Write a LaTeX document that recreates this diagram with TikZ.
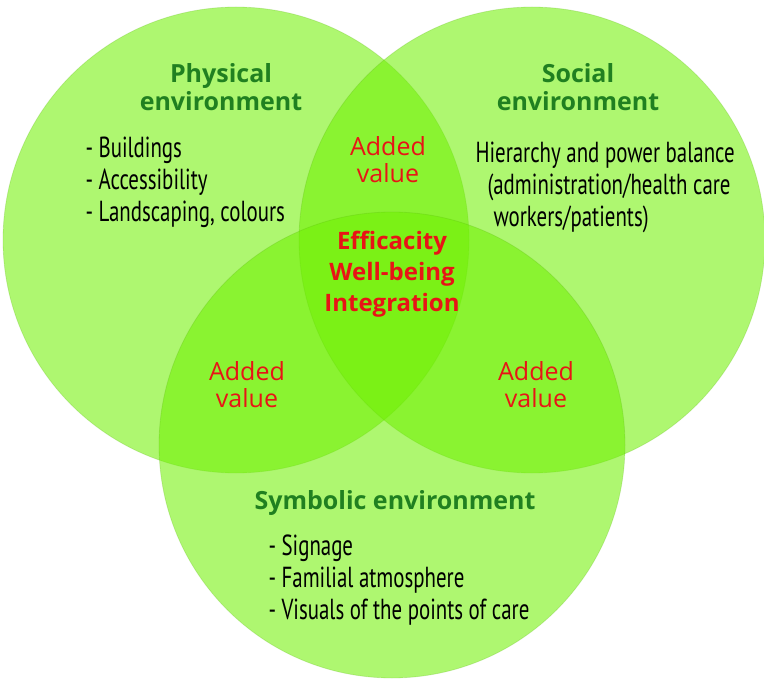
\documentclass[tikz,border=0pt]{standalone}
\usepackage{fontspec}
\setmainfont{Open Sans}
\newfontfamily\narrowfont[FakeStretch=0.72]{PT Sans}
\usepackage{tikz}
\definecolor{venngreen}{RGB}{110,240,0}
\definecolor{titlegreen}{RGB}{32,128,32}
\definecolor{valuered}{RGB}{232,20,22}

\begin{document}
\begin{tikzpicture}[x=1pt,y=-1pt,
  venn/.style={circle,minimum size=466pt,inner sep=0pt,fill=venngreen,fill opacity=0.56,
    draw=venngreen!70!black,draw opacity=0.2,line width=0.8pt},
  envtitle/.style={text=titlegreen,font=\fontsize{25}{28}\selectfont\bfseries,align=center},
  itemlist/.style={font=\narrowfont\fontsize{29}{32}\selectfont,align=left,anchor=west},
  addedvalue/.style={text=valuered,font=\fontsize{25}{27}\selectfont,align=center},
  core/.style={text=valuered,font=\fontsize{24}{31}\selectfont\bfseries,align=center}]
\useasboundingbox (0,0) rectangle (764,679);
\node[venn] (physical) at (236,240) {};
\node[venn] (social) at (532,240) {};
\node[venn] (symbolic) at (392,445) {};

\node[envtitle] (physicaltitle) at (221,87) {Physical\\environment};
\node[envtitle] (socialtitle) at (578,87) {Social\\environment};
\node[envtitle] (symbolictitle) at (395,503) {Symbolic environment};

\node[itemlist] (physicallist) at (82,182) {- Buildings\\- Accessibility\\- Landscaping, colours};
\node[itemlist] (sociallist) at (472,187) {Hierarchy and power balance\\
  \hspace{12pt}(administration/health care\\\hspace{18pt}workers/patients)};
\node[itemlist] (symboliclist) at (265,580) {- Signage\\- Familial atmosphere\\- Visuals of the points of care};

\node[addedvalue] (topvalue) at (388,160) {Added\\value};
\node[addedvalue] (leftvalue) at (247,385) {Added\\value};
\node[addedvalue] (rightvalue) at (536,385) {Added\\value};
\node[core] (centre) at (392,274) {Efficacity\\Well-being\\Integration};
\end{tikzpicture}
\end{document}
